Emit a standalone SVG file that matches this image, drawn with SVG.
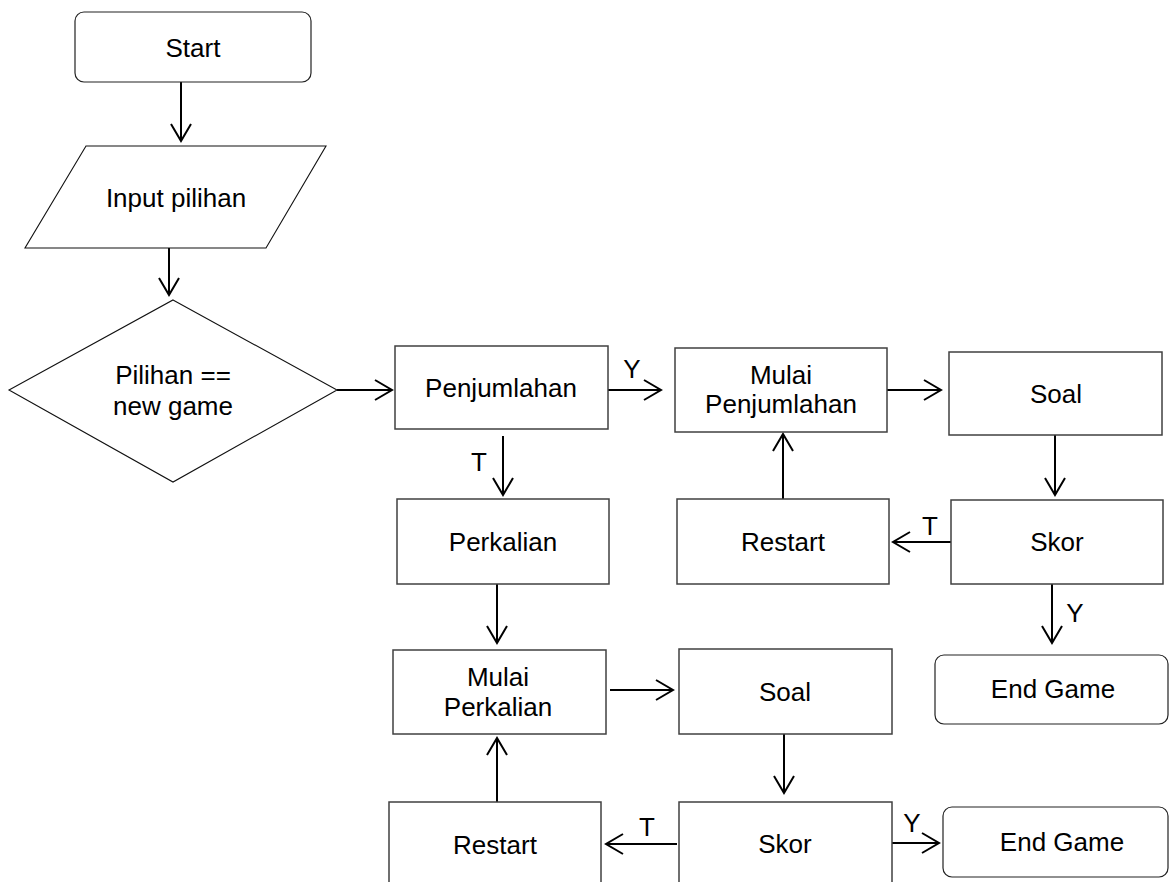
<svg xmlns="http://www.w3.org/2000/svg" width="1170" height="882" viewBox="0 0 1170 882">
<style>
.box{fill:#fff;stroke:#404040;stroke-width:1.5}
.term{fill:#fff;stroke:#222;stroke-width:1.2}
.shape{fill:#fff;stroke:#111;stroke-width:1.1}
.t{font-family:"Liberation Sans",Arial,sans-serif;font-size:26px;fill:#000;text-anchor:middle}
.c{fill:none;stroke:#000;stroke-width:2;marker-end:url(#ah)}
</style>
<defs>
<marker id="ah" markerUnits="userSpaceOnUse" viewBox="-20 -12 22 24" refX="0" refY="0" markerWidth="22" markerHeight="24" orient="auto" overflow="visible">
<path d="M-17,-10 L0,0 L-17,10" fill="none" stroke="#000" stroke-width="2"/>
</marker>
</defs>
<rect width="1170" height="882" fill="#fff"/>
<g id="connectors">
<line class="c" x1="181" y1="82" x2="181" y2="141"/>
<line class="c" x1="169" y1="248" x2="169" y2="295"/>
<line class="c" x1="337" y1="390" x2="392" y2="390"/>
<line class="c" x1="608" y1="390" x2="661" y2="390"/>
<line class="c" x1="503" y1="436" x2="503" y2="495"/>
<line class="c" x1="887" y1="390" x2="941" y2="390"/>
<line class="c" x1="1055" y1="435" x2="1055" y2="495"/>
<line class="c" x1="951" y1="542" x2="893" y2="542"/>
<line class="c" x1="783" y1="499" x2="783" y2="434"/>
<line class="c" x1="1052" y1="584" x2="1052" y2="643"/>
<line class="c" x1="497" y1="584" x2="497" y2="643"/>
<line class="c" x1="610" y1="690" x2="673" y2="690"/>
<line class="c" x1="784" y1="734" x2="784" y2="793"/>
<line class="c" x1="497" y1="802" x2="497" y2="738"/>
<line class="c" x1="677" y1="844" x2="606" y2="844"/>
<line class="c" x1="892" y1="843" x2="939" y2="843"/>
<text class="t" x="632" y="378">Y</text>
<text class="t" x="479" y="471">T</text>
<text class="t" x="930" y="535">T</text>
<text class="t" x="1075" y="622">Y</text>
<text class="t" x="647" y="836">T</text>
<text class="t" x="912" y="832">Y</text>
</g>
<g id="start">
<rect class="term" x="75" y="12" width="236" height="70" rx="9"/>
<text class="t" x="193" y="57">Start</text>
</g>
<g id="input">
<polygon class="shape" points="86,146 326,146 266,248 25,248"/>
<text class="t" x="176" y="207">Input pilihan</text>
</g>
<g id="decision">
<polygon class="shape" points="173,300 337,390 173,482 9,390"/>
<text class="t" x="173" y="384">Pilihan ==</text>
<text class="t" x="173" y="415">new game</text>
</g>
<g id="penjumlahan">
<rect class="box" x="395" y="346" width="213" height="83"/>
<text class="t" x="501" y="397">Penjumlahan</text>
</g>
<g id="mulai-penjumlahan">
<rect class="box" x="675" y="348" width="212" height="84"/>
<text class="t" x="781" y="384">Mulai</text>
<text class="t" x="781" y="413">Penjumlahan</text>
</g>
<g id="soal1">
<rect class="box" x="949" y="352" width="213" height="83"/>
<text class="t" x="1056" y="403">Soal</text>
</g>
<g id="skor1">
<rect class="box" x="951" y="500" width="212" height="84"/>
<text class="t" x="1057" y="551">Skor</text>
</g>
<g id="restart1">
<rect class="box" x="677" y="499" width="212" height="85"/>
<text class="t" x="783" y="551">Restart</text>
</g>
<g id="endgame1">
<rect class="term" x="935" y="655" width="233" height="69" rx="9"/>
<text class="t" x="1053" y="698">End Game</text>
</g>
<g id="perkalian">
<rect class="box" x="397" y="499" width="212" height="85"/>
<text class="t" x="503" y="551">Perkalian</text>
</g>
<g id="mulai-perkalian">
<rect class="box" x="393" y="650" width="213" height="84"/>
<text class="t" x="498" y="686">Mulai</text>
<text class="t" x="498" y="716">Perkalian</text>
</g>
<g id="soal2">
<rect class="box" x="679" y="649" width="213" height="85"/>
<text class="t" x="785" y="701">Soal</text>
</g>
<g id="skor2">
<rect class="box" x="679" y="802" width="213" height="90"/>
<text class="t" x="785" y="853">Skor</text>
</g>
<g id="restart2">
<rect class="box" x="389" y="802" width="212" height="90"/>
<text class="t" x="495" y="854">Restart</text>
</g>
<g id="endgame2">
<rect class="term" x="943" y="807" width="225" height="70" rx="9"/>
<text class="t" x="1062" y="851">End Game</text>
</g>
</svg>
